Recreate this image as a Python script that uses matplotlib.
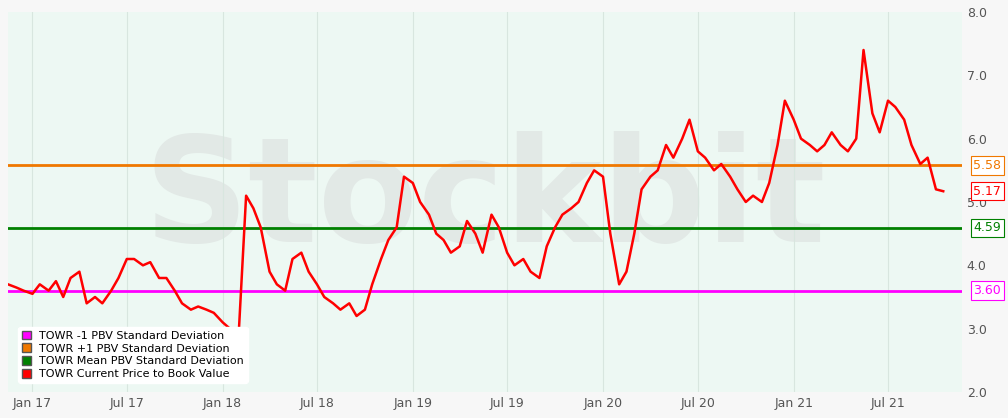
import matplotlib
matplotlib.use("Agg")
import matplotlib.pyplot as plt
import matplotlib.dates as mdates
import pandas as pd
from matplotlib.patches import Patch

vals = [3.7,3.65,3.6,3.55,3.7,3.6,3.75,3.5,3.8,3.9,3.4,3.5,3.4,3.6,3.8,4.1,4.1,4.0,4.05,3.8,3.8,3.6,3.4,3.3,
        3.35,3.3,3.25,3.1,3.0,2.95,5.1,4.9,4.6,3.9,3.7,3.6,4.1,4.2,3.9,3.7,3.5,3.4,3.3,3.4,3.2,3.3,3.7,4.1,
        4.4,4.6,5.4,5.3,5.0,4.8,4.5,4.4,4.2,4.3,4.7,4.5,4.2,4.8,4.6,4.2,4.0,4.1,3.9,3.8,4.3,4.6,4.8,4.9,
        5.0,5.3,5.5,5.4,4.5,3.7,3.9,4.5,5.2,5.4,5.5,5.9,5.7,6.0,6.3,5.8,5.7,5.5,5.6,5.4,5.2,5.0,5.1,5.0,
        5.3,5.9,6.6,6.3,6.0,5.9,5.8,5.9,6.1,5.9,5.8,6.0,7.4,6.4,6.1,6.6,6.5,6.3,5.9,5.6,5.7,5.2,5.17]
dates = pd.date_range("2016-11-15", periods=len(vals), freq="SMS")
mean_v, plus1, minus1 = 4.59, 5.58, 3.60
current = 5.17

fig = plt.figure(figsize=(10.08, 4.18), dpi=100, facecolor="#f7f7f7")
ax = fig.add_axes([8/1008, 1-392/418, 954/1008, 380/418])
ax.set_facecolor("#edf8f3")
ax.text(0.5, 0.5, "Stockbit", transform=ax.transAxes, fontsize=105, color="#e2e9e6",
        ha="center", va="center", zorder=0, fontweight="bold")
ax.axhline(minus1, color="#ff00ff", lw=2, zorder=2)
ax.axhline(plus1, color="#f07800", lw=2, zorder=2)
ax.axhline(mean_v, color="#008000", lw=2, zorder=2)
ax.plot(dates, vals, color="#ff0000", lw=1.8, zorder=3)
ax.set_ylim(2, 8)
ax.set_xlim(pd.Timestamp("2016-11-15"), pd.Timestamp("2021-11-20"))
ax.yaxis.tick_right()
ax.set_yticks([2,3,4,5,6,7,8])
ax.set_yticklabels(["2.0","3.0","4.0","5.0","6.0","7.0","8.0"])
ax.xaxis.set_major_locator(mdates.MonthLocator(bymonth=[1,7]))
ax.xaxis.set_major_formatter(mdates.DateFormatter("%b %y"))
ax.tick_params(colors="#555555", labelsize=9, length=0)
ax.grid(axis="x", color="#d8e6df", lw=0.8)
for s in ax.spines.values():
    s.set_visible(False)
for v, c in [(plus1, "#f07800"), (current, "#ff0000"), (mean_v, "#008000"), (minus1, "#ff00ff")]:
    ax.text(1.012, v, f"{v:.2f}", transform=ax.get_yaxis_transform(), color=c, fontsize=9,
            va="center", ha="left", bbox=dict(fc="white", ec=c, lw=0.8, pad=2))
handles = [Patch(fc="#ff00ff", ec="#555"), Patch(fc="#f07800", ec="#555"),
           Patch(fc="#008000", ec="#555"), Patch(fc="#ff0000", ec="#555")]
labels = ["TOWR -1 PBV Standard Deviation", "TOWR +1 PBV Standard Deviation",
          "TOWR Mean PBV Standard Deviation", "TOWR Current Price to Book Value"]
ax.legend(handles, labels, loc="lower left", fontsize=8, frameon=True, framealpha=1,
          edgecolor="white", handlelength=0.8, handleheight=0.8, labelspacing=0.25,
          borderpad=0.3, bbox_to_anchor=(0.005, 0.01))
fig.savefig("out.png", dpi=100, facecolor=fig.get_facecolor())
